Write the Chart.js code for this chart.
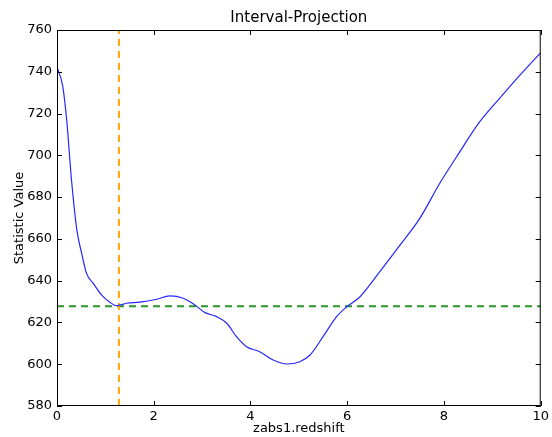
<!DOCTYPE html>
<html>
<head>
<meta charset="utf-8">
<script src="https://cdn.jsdelivr.net/npm/chart.js@4/dist/chart.umd.min.js"></script>
<style>
  html, body { margin: 0; padding: 0; background: #fff; }
  #wrap { width: 552px; height: 437px; }
</style>
</head>
<body>
<div id="wrap"><canvas id="chart" width="552" height="437"></canvas></div>
<script>
// curve
var redshift = [0.0, 0.12, 0.2, 0.3, 0.41, 0.51, 0.61, 0.75, 0.92, 1.1, 1.23, 1.44, 1.71, 2.06, 2.33, 2.61, 2.85, 3.06, 3.3, 3.51,
    3.71, 3.92, 4.19, 4.47, 4.75, 5.02, 5.23, 5.5, 5.78, 5.99, 6.26, 6.67, 7.09, 7.5, 7.91, 8.26, 8.74, 9.15, 9.57, 10.0];
var statValue = [742.3, 732.9, 716.9, 688.2, 664.3, 653.1, 643.5, 638.7, 633.2, 629.5, 628.0, 629.2, 629.7, 631.1, 632.7, 631.6, 628.4, 624.7, 622.8, 619.6,
    613.2, 608.4, 606.0, 602.0, 600.1, 601.2, 604.4, 613.2, 622.8, 627.5, 632.2, 644.2, 657.0, 669.8, 686.5, 699.3, 716.1, 727.3, 738.4, 749.2];

var bestFit = 1.28;     // orange vertical line
var threshold = 627.8;  // green horizontal line

var xTicks = [0, 2, 4, 6, 8, 10];
var yTicks = [580, 600, 620, 640, 660, 680, 700, 720, 740, 760];

var font = "'DejaVu Sans', sans-serif";

var curve = redshift.map(function (x, i) { return { x: x, y: statValue[i] }; });

// frame, inward ticks and titles, drawn like the matplotlib original
var framePlugin = {
    id: 'frame',
    afterDraw: function (chart) {
        var ctx = chart.ctx, a = chart.chartArea;
        var xs = chart.scales.x, ys = chart.scales.y;
        ctx.save();
        ctx.strokeStyle = '#000';
        ctx.lineWidth = 1;
        ctx.strokeRect(a.left + 0.5, a.top + 0.5, a.right - a.left - 1, a.bottom - a.top - 1);
        ctx.beginPath();
        xTicks.forEach(function (t) {
            var px = Math.round(xs.getPixelForValue(t)) + 0.5;
            ctx.moveTo(px, a.bottom); ctx.lineTo(px, a.bottom - 5);
            ctx.moveTo(px, a.top); ctx.lineTo(px, a.top + 5);
        });
        yTicks.forEach(function (t) {
            var py = Math.round(ys.getPixelForValue(t)) + 0.5;
            ctx.moveTo(a.left, py); ctx.lineTo(a.left + 5, py);
            ctx.moveTo(a.right, py); ctx.lineTo(a.right - 5, py);
        });
        ctx.stroke();

        ctx.fillStyle = '#000';
        ctx.textAlign = 'center';
        ctx.textBaseline = 'middle';
        ctx.font = '15px ' + font;
        ctx.fillText('Interval-Projection', (a.left + a.right) / 2, 18);
        ctx.font = '13px ' + font;
        ctx.fillText('zabs1.redshift', (a.left + a.right) / 2, 429);
        ctx.translate(20, (a.top + a.bottom) / 2);
        ctx.rotate(-Math.PI / 2);
        ctx.fillText('Statistic Value', 0, 0);
        ctx.restore();
    }
};

var chart = new Chart(document.getElementById('chart').getContext('2d'), {
    type: 'line',
    data: {
        datasets: [{
            data: curve,
            borderColor: '#2626ff',
            borderWidth: 1.2,
            pointRadius: 0,
            cubicInterpolationMode: 'monotone'
        }, {
            data: [{ x: bestFit, y: 580 }, { x: bestFit, y: 760 }],
            borderColor: '#ffa500',
            borderWidth: 2,
            borderDash: [7, 5],
            pointRadius: 0
        }, {
            data: [{ x: 0, y: threshold }, { x: 10, y: threshold }],
            borderColor: '#2a962a',
            borderWidth: 2,
            borderDash: [7, 5],
            pointRadius: 0
        }]
    },
    options: {
        responsive: false,
        animation: false,
        layout: { padding: { top: 30, right: 11, left: 0, bottom: 0 } },
        plugins: { legend: { display: false }, tooltip: { enabled: false } },
        scales: {
            x: {
                type: 'linear',
                min: 0, max: 10,
                afterBuildTicks: function (s) { s.ticks = xTicks.map(function (v) { return { value: v }; }); },
                afterFit: function (s) { s.height = 31; },
                grid: { display: false, drawTicks: false, tickLength: 0 },
                border: { display: false },
                ticks: { color: '#000', padding: 3, font: { family: font, size: 13 } }
            },
            y: {
                min: 580, max: 760,
                afterBuildTicks: function (s) { s.ticks = yTicks.map(function (v) { return { value: v }; }); },
                afterFit: function (s) { s.width = 57; },
                grid: { display: false, drawTicks: false, tickLength: 0 },
                border: { display: false },
                ticks: { color: '#000', padding: 5, font: { family: font, size: 13 } }
            }
        }
    },
    plugins: [framePlugin]
});
</script>
</body>
</html>
